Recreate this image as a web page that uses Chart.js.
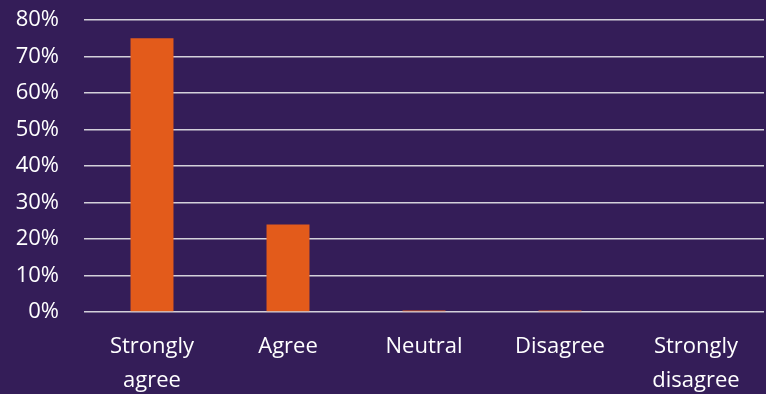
<!DOCTYPE html>
<html>
<head>
<meta charset="utf-8">
<script src="https://cdn.jsdelivr.net/npm/chart.js@4/dist/chart.umd.min.js"></script>
<style>
    html, body { margin: 0; padding: 0; background: #341d58; }
    #wrap { width: 766px; height: 394px; }
</style>
</head>
<body>
<div id="wrap"><canvas id="surveyChart"></canvas></div>
<script>
const categories = [['Strongly', 'agree'], 'Agree', 'Neutral', 'Disagree', ['Strongly', 'disagree']];
const responseShare = [75, 24, 0.4, 0.4, 0];
const yTicks = [0, 10, 20, 30, 40, 50, 60, 70, 80];

const gridColor = 'rgba(220, 218, 226, 0.95)';
const labelFont = { family: 'Open Sans', size: 22 };

new Chart(document.getElementById('surveyChart'), {
    type: 'bar',
    data: {
        labels: categories,
        datasets: [{
            data: responseShare,
            backgroundColor: '#e35b1b',
            borderWidth: 0,
            categoryPercentage: 1,
            barPercentage: 0.316
        }]
    },
    options: {
        responsive: true,
        maintainAspectRatio: false,
        animation: false,
        layout: { padding: { top: 20, right: 2, left: 0, bottom: 0 } },
        plugins: {
            legend: { display: false },
            tooltip: { enabled: false }
        },
        scales: {
            x: {
                grid: { display: false, drawTicks: false },
                border: { display: false },
                ticks: {
                    color: '#ffffff',
                    padding: 18,
                    maxRotation: 0,
                    font: Object.assign({ lineHeight: 1.55 }, labelFont)
                },
                afterFit: function(axis) {
                    axis.height = 82;
                    axis.paddingLeft = 0;
                    axis.paddingRight = 0;
                }
            },
            y: {
                min: 0,
                max: 80,
                afterBuildTicks: function(axis) {
                    axis.ticks = yTicks.map(v => ({ value: v }));
                },
                grid: { color: gridColor, lineWidth: 1.5, drawTicks: false },
                border: { display: false },
                ticks: {
                    color: '#ffffff',
                    padding: 25,
                    font: labelFont,
                    callback: function(value) { return value + '%'; }
                },
                afterFit: function(axis) {
                    axis.width = 84;
                    axis.paddingTop = 0;
                    axis.paddingBottom = 0;
                }
            }
        }
    }
});
</script>
</body>
</html>
